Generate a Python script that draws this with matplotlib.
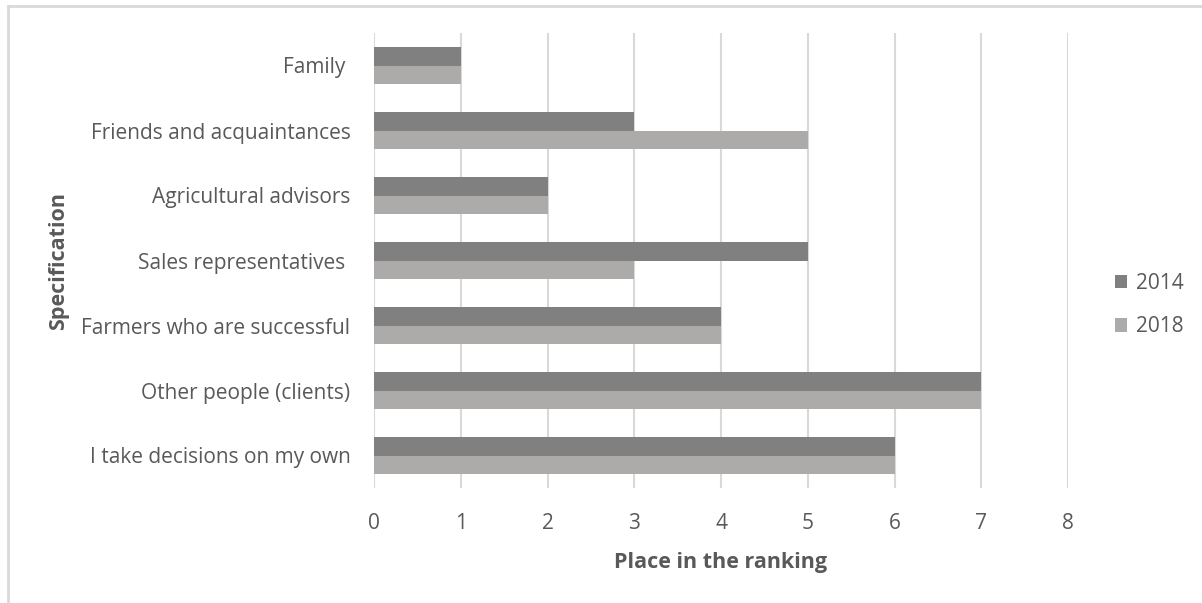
import matplotlib
matplotlib.use("Agg")
import matplotlib.pyplot as plt
from matplotlib.patches import Patch
from matplotlib.lines import Line2D
import numpy as np

categories = ["Family ", "Friends and acquaintances", "Agricultural advisors",
              "Sales representatives ", "Farmers who are successful",
              "Other people (clients)", "I take decisions on my own"]
values_2014 = [1, 3, 2, 5, 4, 7, 6]
values_2018 = [1, 5, 2, 3, 4, 7, 6]
series_names = ["2014", "2018"]
x_ticks = [0, 1, 2, 3, 4, 5, 6, 7, 8]

plt.rcParams['font.family'] = ['Open Sans', 'DejaVu Sans']
TXT = "#595959"
C14 = "#808080"
C18 = "#ADAAAA"

fig = plt.figure(figsize=(12.02, 6.03), dpi=100)
ax = fig.add_axes([374/1202, 1-488/603, (1068-374)/1202, (488-33)/603])

y = np.arange(len(categories))
h = 0.285
ax.barh(y - h/2, values_2014, height=h, color=C14, label=series_names[0], zorder=3)
ax.barh(y + h/2, values_2018, height=h, color=C18, label=series_names[1], zorder=3)

ax.set_ylim(len(categories) - 0.5, -0.5)
ax.set_xlim(0, 8)
ax.set_xticks(x_ticks)
ax.set_xticklabels([str(t) for t in x_ticks])
ax.set_yticks(y)
ax.set_yticklabels(categories)
ax.tick_params(axis='both', length=0, labelsize=15, colors=TXT)
ax.tick_params(axis='x', pad=18)
ax.tick_params(axis='y', pad=17)
ax.grid(axis='x', color="#D9D9D9", linewidth=1.5, zorder=0)
for s in ax.spines.values():
    s.set_visible(False)

ax.set_xlabel("Place in the ranking", fontsize=15.5, fontweight='bold', color=TXT, labelpad=13)
ax.set_ylabel("Specification", fontsize=15.5, fontweight='bold', color=TXT, labelpad=9)

handles = [Patch(facecolor=C14), Patch(facecolor=C18)]
fig.legend(handles, series_names, loc='center left', bbox_to_anchor=(1096/1202, 1-305/603),
           frameon=False, fontsize=15, labelcolor=TXT, handlelength=0.6, handleheight=0.6,
           handletextpad=0.4, labelspacing=1.1)

# outer chart border (top and left visible)
fig.add_artist(Line2D([8/1202, 1], [1-6/603, 1-6/603], color="#D9D9D9", linewidth=2, transform=fig.transFigure))
fig.add_artist(Line2D([8/1202, 8/1202], [0, 1-6/603], color="#D9D9D9", linewidth=2, transform=fig.transFigure))

fig.savefig("out.png", dpi=100)
